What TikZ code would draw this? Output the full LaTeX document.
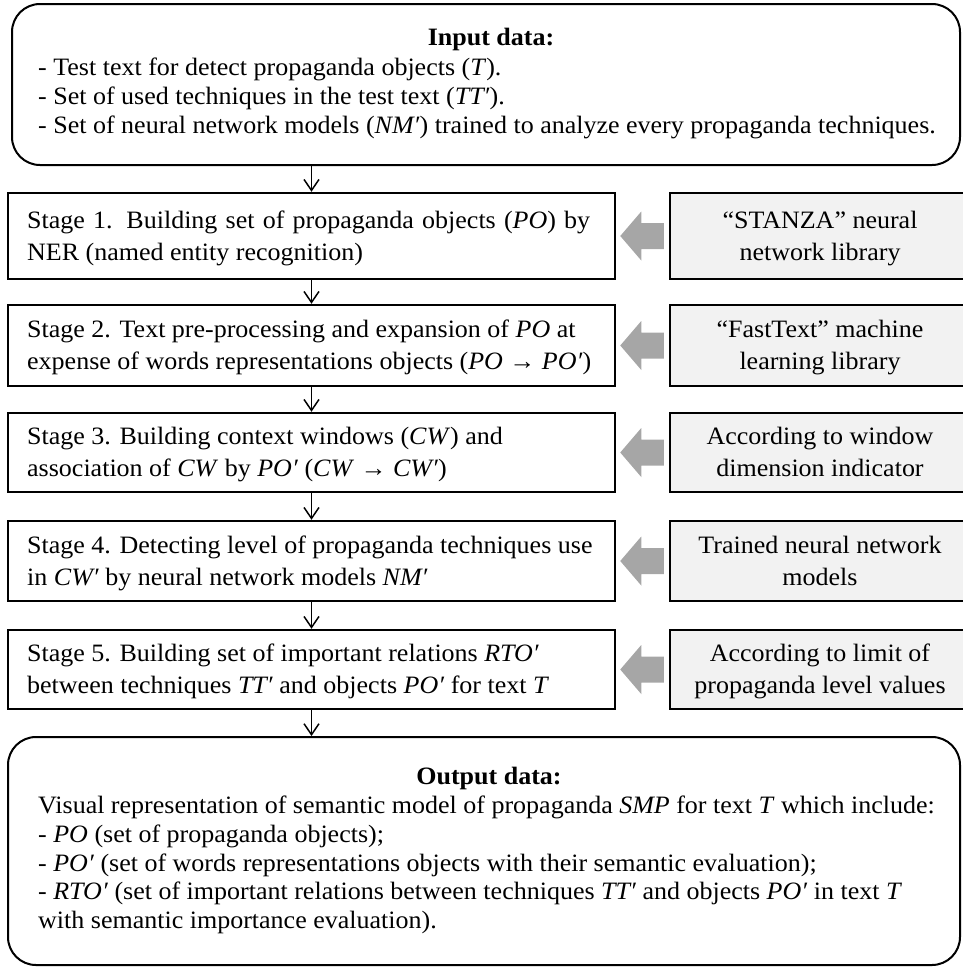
\documentclass[tikz,border=0pt]{standalone}
\usepackage{fontspec}
\setmainfont[FakeStretch=1.04]{Liberation Serif}
\usetikzlibrary{arrows.meta,calc}
\definecolor{boxgray}{HTML}{F2F2F2}
\definecolor{arrowgray}{HTML}{A6A6A6}
\newcommand\blockarrow[2]{%
  \fill[arrowgray] ([xshift=4pt]#1.east) -- ([xshift=25pt,yshift=24.5pt]#1.east)
    -- ([xshift=25pt,yshift=13pt]#1.east) -- ([xshift=-5pt,yshift=13pt]#2.west)
    -- ([xshift=-5pt,yshift=-13pt]#2.west) -- ([xshift=25pt,yshift=-13pt]#1.east)
    -- ([xshift=25pt,yshift=-24.5pt]#1.east) -- cycle;}
\begin{document}
\begin{tikzpicture}[x=1pt,y=-1pt,
  every node/.style={font={\fontsize{25}{30}\selectfont}},
  txt/.style={inner sep=0pt, anchor=base west},
  ctxt/.style={inner sep=0pt, anchor=base},
  roundbox/.style={draw, line width=2pt, rounded corners=28pt, inner sep=0pt},
  stagebox/.style={draw, line width=2.5pt, inner sep=0pt, minimum width=607pt},
  toolbox/.style={draw, line width=2.5pt, fill=boxgray, inner sep=0pt, minimum width=302pt},
  flow/.style={line width=1.5pt, -{Straight Barb[length=11pt,width=15pt,line width=1.5pt]}}
]
\useasboundingbox (0,0) rectangle (962,967);

% boxes
\node[roundbox, minimum width=948pt, minimum height=161pt] (in) at (486,84.5) {};
\node[stagebox, minimum height=86pt] (s1) at (311.5,236) {};
\node[stagebox, minimum height=81pt] (s2) at (311.5,345.5) {};
\node[stagebox, minimum height=79pt] (s3) at (311.5,452.5) {};
\node[stagebox, minimum height=80pt] (s4) at (311.5,561) {};
\node[stagebox, minimum height=79pt] (s5) at (311.5,669.5) {};
\node[toolbox, minimum height=86pt] (g1) at (821,236) {};
\node[toolbox, minimum height=81pt] (g2) at (821,345.5) {};
\node[toolbox, minimum height=79pt] (g3) at (821,452.5) {};
\node[toolbox, minimum height=80pt] (g4) at (821,561) {};
\node[toolbox, minimum height=79pt] (g5) at (821,669.5) {};
\node[roundbox, minimum width=952pt, minimum height=228pt] (out) at (484,851) {};

% input text
\node[ctxt] (inh) at (491,45) {\textbf{Input data:}};
\node[txt] (in1) at (38,75) {- Test text for detect propaganda objects (\textit{T}).};
\node[txt] (in2) at (38,104) {- Set of used techniques in the test text (\textit{TT′}).};
\node[txt] (in3) at (38,133) {- Set of neural network models (\textit{NM′}) trained to analyze every propaganda techniques.};

% stage texts
\node[txt] (s1a) at (27,228) {\makebox[563pt][s]{Stage 1. Building set of propaganda objects (\textit{PO}) by}};
\node[txt] (s1b) at (27,260) {NER (named entity recognition)};
\node[txt] (s2a) at (27,337.5) {Stage 2. Text pre-processing and expansion of \textit{PO} at};
\node[txt] (s2b) at (27,369.5) {expense of words representations objects (\textit{PO} → \textit{PO′})};
\node[txt] (s3a) at (27,444.5) {Stage 3. Building context windows (\textit{CW}) and};
\node[txt] (s3b) at (27,476.5) {association of \textit{CW} by \textit{PO′} (\textit{CW} → \textit{CW′})};
\node[txt] (s4a) at (27,553) {Stage 4. Detecting level of propaganda techniques use};
\node[txt] (s4b) at (27,585) {in \textit{CW′} by neural network models \textit{NM′}};
\node[txt] (s5a) at (27,661.5) {Stage 5. Building set of important relations \textit{RTO′}};
\node[txt] (s5b) at (27,693.5) {between techniques \textit{TT′} and objects \textit{PO′} for text \textit{T}};

% tool texts
\node[ctxt] (g1a) at (820,228) {“STANZA” neural};
\node[ctxt] (g1b) at (820,260) {network library};
\node[ctxt] (g2a) at (820,337.5) {“FastText” machine};
\node[ctxt] (g2b) at (820,369.5) {learning library};
\node[ctxt] (g3a) at (820,444.5) {According to window};
\node[ctxt] (g3b) at (820,476.5) {dimension indicator};
\node[ctxt] (g4a) at (820,553) {Trained neural network};
\node[ctxt] (g4b) at (820,585) {models};
\node[ctxt] (g5a) at (820,661.5) {According to limit of};
\node[ctxt] (g5b) at (820,693.5) {propaganda level values};

% output text
\node[ctxt] (outh) at (489,784) {\textbf{Output data:}};
\node[txt] (out1) at (38,813) {Visual representation of semantic model of propaganda \textit{SMP} for text \textit{T} which include:};
\node[txt] (out2) at (38,842) {- \textit{PO} (set of propaganda objects);};
\node[txt] (out3) at (38,871) {- \textit{PO′} (set of words representations objects with their semantic evaluation);};
\node[txt] (out4) at (38,899) {- \textit{RTO′} (set of important relations between techniques \textit{TT′} and objects \textit{PO′} in text \textit{T}};
\node[txt] (out5) at (38,928) {with semantic importance evaluation).};

% flow arrows
\draw[flow] (in.south -| s1.north) -- (s1.north);
\draw[flow] (s1.south) -- (s2.north);
\draw[flow] (s2.south) -- (s3.north);
\draw[flow] (s3.south) -- (s4.north);
\draw[flow] (s4.south) -- (s5.north);
\draw[flow] (s5.south) -- (s5.south |- out.north);

% block arrows
\blockarrow{s1}{g1}
\blockarrow{s2}{g2}
\blockarrow{s3}{g3}
\blockarrow{s4}{g4}
\blockarrow{s5}{g5}
\end{tikzpicture}
\end{document}
